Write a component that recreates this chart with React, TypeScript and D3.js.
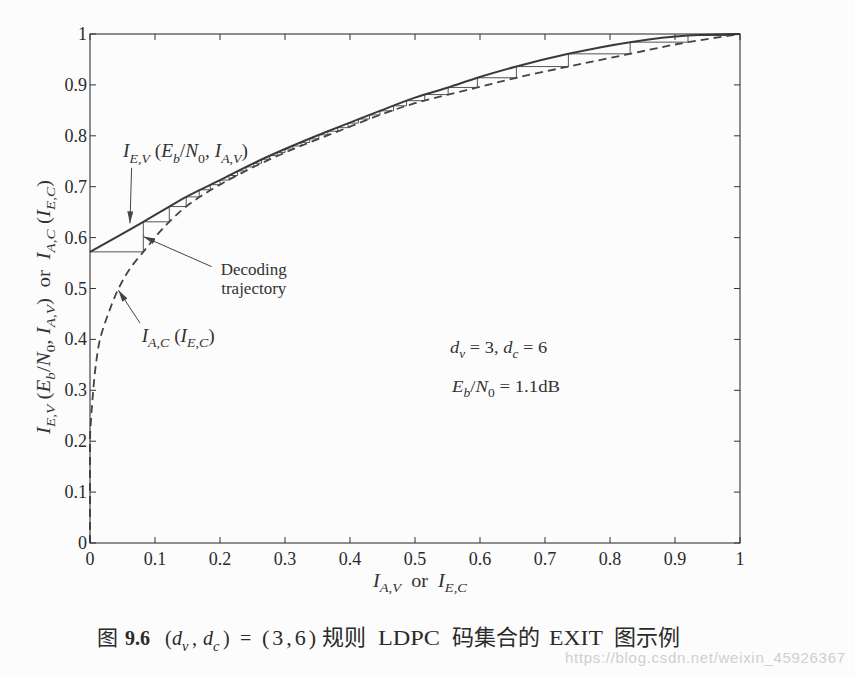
import React from "react";
import { curveMonotoneX, curveMonotoneY, curveStepAfter, line, scaleLinear } from "d3";

const WIDTH = 855;
const HEIGHT = 676;
const LEFT = 90;
const RIGHT = 740;
const TOP = 34;
const BOTTOM = 543;
const TICK_LEN = 6;
const INK = "#333";
const SERIF = "'Liberation Serif', 'DejaVu Serif', serif";
const CJK = "'Noto Sans CJK SC', sans-serif";

// tick values and labels
const TICKS = [0, 0.1, 0.2, 0.3, 0.4, 0.5, 0.6, 0.7, 0.8, 0.9, 1];
const TICK_LABELS = ["0", "0.1", "0.2", "0.3", "0.4", "0.5", "0.6", "0.7", "0.8", "0.9", "1"];

// variable node curve I_E,V(Eb/N0, I_A,V), solid
const VN_X = [0, 0.082, 0.122, 0.148, 0.2, 0.2615, 0.3, 0.364, 0.4, 0.446, 0.5, 0.551, 0.596, 0.656, 0.736, 0.831, 0.92, 1];
const VN_Y = [0.572, 0.631, 0.661, 0.68, 0.713, 0.752, 0.774, 0.808, 0.826, 0.849, 0.875, 0.895, 0.914, 0.936, 0.961, 0.984, 0.997, 1];

// check node curve I_A,C(I_E,C), dashed
const CN_X = [0, 0, 0.002, 0.005, 0.009, 0.0154, 0.028, 0.044, 0.062, 0.082, 0.122, 0.148, 0.2, 0.3, 0.4, 0.446, 0.5, 0.551, 0.596, 0.656, 0.736, 0.831, 0.92, 1];
const CN_Y = [0, 0.2, 0.25, 0.3, 0.35, 0.4, 0.45, 0.5, 0.54, 0.572, 0.631, 0.661, 0.704, 0.767, 0.818, 0.841, 0.864, 0.881, 0.895, 0.914, 0.936, 0.961, 0.984, 1];

// decoding trajectory corners
const TRAJ_X = [0, 0.082, 0.122, 0.148, 0.168, 0.185, 0.2, 0.214, 0.227, 0.24, 0.252, 0.264, 0.276, 0.288, 0.3, 0.312, 0.325, 0.338, 0.352, 0.366, 0.381, 0.397, 0.413, 0.43, 0.446, 0.467, 0.487, 0.515, 0.551, 0.596, 0.656, 0.736, 0.831, 0.92, 0.979, 1];
const TRAJ_Y = [0.572, 0.631, 0.661, 0.68, 0.694, 0.704, 0.713, 0.722, 0.731, 0.739, 0.746, 0.754, 0.761, 0.767, 0.774, 0.78, 0.787, 0.794, 0.802, 0.809, 0.816, 0.825, 0.833, 0.841, 0.849, 0.859, 0.869, 0.881, 0.895, 0.914, 0.936, 0.961, 0.984, 0.997, 1, 1];

type Seg = { t: string; i?: boolean; s?: boolean };

const x = scaleLinear().domain([0, 1]).range([LEFT, RIGHT]);
const y = scaleLinear().domain([0, 1]).range([BOTTOM, TOP]);

type RichProps = { px: number; py: number; segs: Seg[]; size: number; anchor?: string; transform?: string; len?: number; adjust?: string; fill?: string };

const Rich = ({ px, py, segs, size, anchor = "start", transform, len, adjust = "spacingAndGlyphs", fill = INK }: RichProps) => {
    let cur = 0;
    return (
        <text
            x={px}
            y={py}
            fontSize={size}
            fontFamily={SERIF}
            fill={fill}
            textAnchor={anchor}
            transform={transform}
            textLength={len}
            lengthAdjust={len ? adjust : undefined}
            style={{ whiteSpace: "pre" }}
        >
            {segs.map((s, k) => {
                const target = s.s ? size * 0.3 : 0;
                const dy = target - cur;
                cur = target;
                return (
                    <tspan key={k} dy={dy} fontStyle={s.i ? "italic" : "normal"} fontSize={s.s ? size * 0.72 : size}>
                        {s.t}
                    </tspan>
                );
            })}
        </text>
    );
};

const IEV: Seg[] = [{ t: "I", i: true }, { t: "E,V", i: true, s: true }, { t: " (" }, { t: "E", i: true }, { t: "b", i: true, s: true }, { t: "/" }, { t: "N", i: true }, { t: "0", s: true }, { t: ", " }, { t: "I", i: true }, { t: "A,V", i: true, s: true }, { t: ")" }];
const IAC: Seg[] = [{ t: "I", i: true }, { t: "A,C", i: true, s: true }, { t: " (" }, { t: "I", i: true }, { t: "E,C", i: true, s: true }, { t: ")" }];

const Arrow = ({ from, to }: { from: [number, number]; to: [number, number] }) => (
    <line x1={x(from[0])} y1={y(from[1])} x2={x(to[0])} y2={y(to[1])} stroke="#444" strokeWidth={1} markerEnd="url(#head)" />
);

const Axes = () => (
    <g stroke={INK} strokeWidth={1}>
        <rect x={LEFT} y={TOP} width={RIGHT - LEFT} height={BOTTOM - TOP} fill="none" strokeWidth={1.1} />
        {TICKS.map((t) => (
            <g key={t}>
                <line x1={x(t)} x2={x(t)} y1={BOTTOM} y2={BOTTOM - TICK_LEN} />
                <line x1={x(t)} x2={x(t)} y1={TOP} y2={TOP + TICK_LEN} />
                <line x1={LEFT} x2={LEFT + TICK_LEN} y1={y(t)} y2={y(t)} />
                <line x1={RIGHT} x2={RIGHT - TICK_LEN} y1={y(t)} y2={y(t)} />
            </g>
        ))}
        <g stroke="none" fill="#2a2a2a" fontFamily={SERIF} fontSize={18}>
            {TICKS.map((t, i) => (
                <text key={"x" + t} x={x(t)} y={BOTTOM + 22} textAnchor="middle">{TICK_LABELS[i]}</text>
            ))}
            {TICKS.map((t, i) => (
                <text key={"y" + t} x={LEFT - 3} y={y(t) + 6} textAnchor="end">{TICK_LABELS[i]}</text>
            ))}
        </g>
    </g>
);

const CAP_Y = 645;

const Caption = () => (
    <g fill="#2a2a2a" fontFamily={SERIF} fontSize={20}>
        <text x={97} y={CAP_Y} fontSize={21} fontFamily={CJK}>图</text>
        <text x={125} y={CAP_Y} fontWeight="bold">9.6</text>
        <text x={165} y={CAP_Y}>(</text>
        <Rich px={172} py={CAP_Y} size={20} fill="#2a2a2a" segs={[{ t: "d", i: true }, { t: "v", i: true, s: true }]} />
        <text x={192} y={CAP_Y}>,</text>
        <Rich px={203} py={CAP_Y} size={20} fill="#2a2a2a" segs={[{ t: "d", i: true }, { t: "c", i: true, s: true }]} />
        <text x={223} y={CAP_Y}>)</text>
        <text x={240} y={CAP_Y}>=</text>
        <text x={262} y={CAP_Y} fontSize={22} letterSpacing={3}>(3,6)</text>
        <text x={322} y={CAP_Y} fontSize={22} fontFamily={CJK}>规则</text>
        <text x={378} y={CAP_Y} textLength={62} lengthAdjust="spacingAndGlyphs">LDPC</text>
        <text x={452} y={CAP_Y} fontSize={22} fontFamily={CJK}>码集合的</text>
        <text x={549} y={CAP_Y} textLength={54} lengthAdjust="spacingAndGlyphs">EXIT</text>
        <text x={614} y={CAP_Y} fontSize={22} fontFamily={CJK}>图示例</text>
    </g>
);

export default function App() {
    const vn = line<number>().x((d) => x(d)).y((_, i) => y(VN_Y[i])).curve(curveMonotoneX);
    const cn = line<number>().x((d) => x(d)).y((_, i) => y(CN_Y[i])).curve(curveMonotoneY);
    const traj = line<number>().x((d) => x(d)).y((_, i) => y(TRAJ_Y[i])).curve(curveStepAfter);

    return (
        <svg width={WIDTH} height={HEIGHT} style={{ position: "absolute", left: 0, top: 0, background: "#fcfcfc" }}>
            <defs>
                <marker id="head" viewBox="0 0 12 6" refX={12} refY={3} markerWidth={12} markerHeight={6} markerUnits="userSpaceOnUse" orient="auto">
                    <path d="M0,0 L12,3 L0,6 z" fill="#444" />
                </marker>
            </defs>
            <path d={traj(TRAJ_X) || ""} fill="none" stroke="#555" strokeWidth={1} />
            <path d={cn(CN_X) || ""} fill="none" stroke="#444" strokeWidth={1.8} strokeDasharray="8,5" />
            <path d={vn(VN_X) || ""} fill="none" stroke="#3a3a3a" strokeWidth={2} />
            <Axes />

            <Rich px={x(0.0508)} py={y(0.758)} segs={IEV} size={18} len={125} />
            <Arrow from={[0.064, 0.737]} to={[0.0615, 0.628]} />
            <text x={x(0.252)} y={y(0.5265)} fontSize={17} fontFamily={SERIF} fill={INK} textAnchor="middle">Decoding</text>
            <text x={x(0.252)} y={y(0.489)} fontSize={17} fontFamily={SERIF} fill={INK} textAnchor="middle">trajectory</text>
            <Arrow from={[0.187, 0.543]} to={[0.082, 0.602]} />
            <Rich px={x(0.0795)} py={y(0.395)} segs={IAC} size={18} len={73} />
            <Arrow from={[0.077, 0.432]} to={[0.0435, 0.497]} />

            <Rich px={x(0.554)} py={y(0.373)} size={17} len={97} segs={[{ t: "d", i: true }, { t: "v", i: true, s: true }, { t: " = 3, " }, { t: "d", i: true }, { t: "c", i: true, s: true }, { t: " = 6" }]} />
            <Rich px={x(0.557)} py={y(0.297)} size={17} len={108} segs={[{ t: "E", i: true }, { t: "b", i: true, s: true }, { t: "/" }, { t: "N", i: true }, { t: "0", s: true }, { t: " = 1.1dB" }]} />

            <Rich px={420} py={587} anchor="middle" size={18} len={94} segs={[{ t: "I", i: true }, { t: "A,V", i: true, s: true }, { t: "  or  " }, { t: "I", i: true }, { t: "E,C", i: true, s: true }]} />
            <Rich px={0} py={0} anchor="middle" size={18} len={254} transform="translate(50,307) rotate(-90)" segs={[...IEV, { t: "  or  " }, ...IAC]} />

            <Caption />
            <text x={565} y={663} fontSize={15} fontFamily="'Liberation Sans', sans-serif" fill="#cfcfcf" textLength={280}>https://blog.csdn.net/weixin_45926367</text>
        </svg>
    );
}
